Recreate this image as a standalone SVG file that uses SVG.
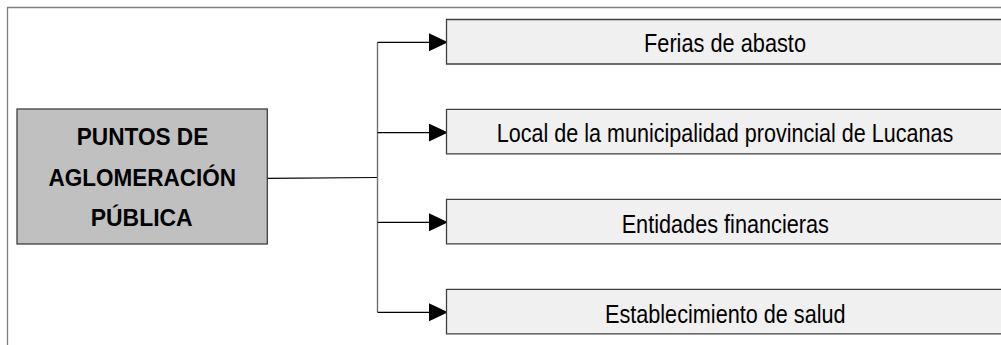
<svg xmlns="http://www.w3.org/2000/svg" width="1001" height="345" viewBox="0 0 1001 345">
  <style>
    .frame { stroke: #808080; stroke-width: 1.3; fill: none; }
    .main { fill: #c0c0c0; stroke: #404040; stroke-width: 1.3; }
    .item-fill { fill: #f0f0f0; stroke: none; }
    .item-edge { fill: none; stroke: #404040; stroke-width: 1.3; }
    .title { font-family: "Liberation Sans", Arial, sans-serif; font-weight: bold; font-size: 24px; fill: #000; text-anchor: middle; }
    .label { font-family: "Liberation Sans", Arial, sans-serif; font-size: 25.5px; fill: #000; text-anchor: middle; }
    .conn { stroke: #000; stroke-width: 1.2; fill: none; }
    .trunk { stroke: #707070; stroke-width: 1.4; fill: none; }
  </style>
  <defs>
    <marker id="arrow" markerUnits="userSpaceOnUse" markerWidth="20" markerHeight="20" refX="19" refY="9" orient="auto">
      <path d="M0,0 L19,9 L0,18 Z" fill="#000"/>
    </marker>
  </defs>
  <rect width="1001" height="345" fill="#ffffff"/>
  <path class="frame" d="M7.5,345 L7.5,7.5 L1001,7.5"/>

  <g id="connectors">
    <path class="conn" d="M267,178.3 L377.5,177.5"/>
    <path class="trunk" d="M377.5,42.3 L377.5,312.3"/>
    <path class="conn" d="M377.5,42.3 L448,42.3" marker-end="url(#arrow)"/>
    <path class="conn" d="M377.5,132.6 L448,132.6" stroke-width="2" marker-end="url(#arrow)"/>
    <path class="conn" d="M377.5,222.3 L448,222.3" marker-end="url(#arrow)"/>
    <path class="conn" d="M377.5,312.3 L448,312.3" marker-end="url(#arrow)"/>
  </g>

  <g id="node-main">
    <rect class="main" x="17" y="109" width="250.3" height="135"/>
    <text class="title" x="142.5" y="145" textLength="131.5" lengthAdjust="spacingAndGlyphs">PUNTOS DE</text>
    <text class="title" x="142.3" y="185.5" textLength="187.5" lengthAdjust="spacingAndGlyphs">AGLOMERACIÓN</text>
    <text class="title" x="141.7" y="226" textLength="102" lengthAdjust="spacingAndGlyphs">PÚBLICA</text>
  </g>

  <g id="node-ferias">
    <rect class="item-fill" x="446.5" y="19.5" width="554.5" height="44.5"/>
    <path class="item-edge" d="M1001,19.5 H446.5 V64 H1001"/>
    <text class="label" x="725" y="52" textLength="162" lengthAdjust="spacingAndGlyphs">Ferias de abasto</text>
  </g>
  <g id="node-local">
    <rect class="item-fill" x="446.5" y="109.3" width="554.5" height="44.5"/>
    <path class="item-edge" d="M1001,109.3 H446.5 V153.8 H1001"/>
    <text class="label" x="725" y="142" textLength="456.5" lengthAdjust="spacingAndGlyphs">Local de la municipalidad provincial de Lucanas</text>
  </g>
  <g id="node-entidades">
    <rect class="item-fill" x="446.5" y="199.3" width="554.5" height="44.5"/>
    <path class="item-edge" d="M1001,199.3 H446.5 V243.8 H1001"/>
    <text class="label" x="725.3" y="232.5" textLength="207.3" lengthAdjust="spacingAndGlyphs">Entidades financieras</text>
  </g>
  <g id="node-salud">
    <rect class="item-fill" x="446.5" y="289.3" width="554.5" height="44.5"/>
    <path class="item-edge" d="M1001,289.3 H446.5 V333.8 H1001"/>
    <text class="label" x="725.3" y="322.8" textLength="240.7" lengthAdjust="spacingAndGlyphs">Establecimiento de salud</text>
  </g>
</svg>
